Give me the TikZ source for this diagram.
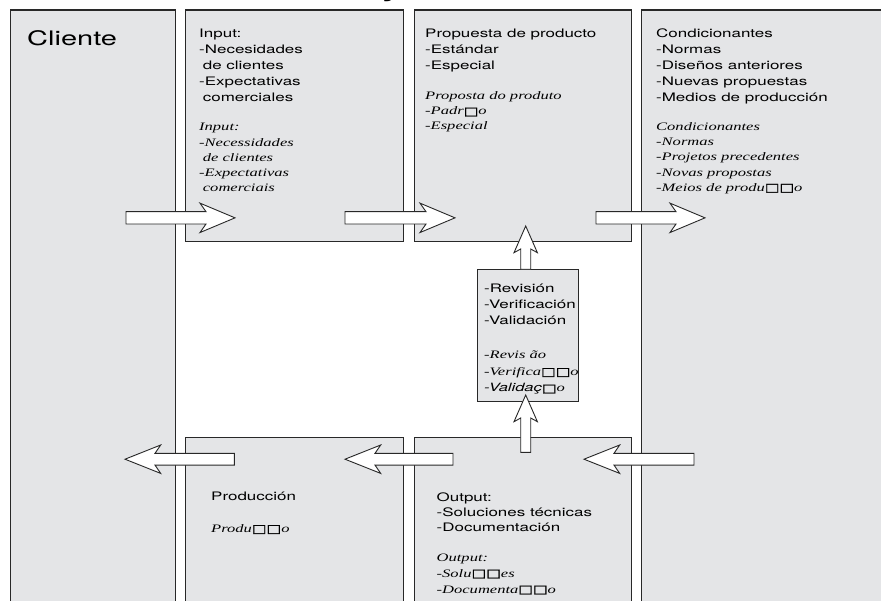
\documentclass[tikz,border=0pt]{standalone}
\usepackage{fontspec}
\usetikzlibrary{calc}
\newfontfamily\hv[FakeStretch=1.45]{TeX Gyre Heros}
\newfontfamily\tm[FakeStretch=1.45]{Liberation Serif}
\newfontfamily\bxf[FakeStretch=1.35,FakeBold=1.5]{DejaVu Sans}
\definecolor{pg}{RGB}{228,229,231}
\definecolor{lc}{RGB}{40,40,40}
\newcommand\bx{{\bxf\fontsize{11.5}{11.5}\selectfont\char"25A1}}
\tikzset{
  panel/.style={draw=lc, line width=1.2pt, fill=pg, inner sep=0pt, anchor=north west},
  sans/.style={font=\hv\fontsize{11.7}{14}\selectfont, inner sep=0pt, anchor=base west},
  ital/.style={font=\tm\itshape\fontsize{11.4}{14}\selectfont, inner sep=0pt, anchor=base west},
  blockarrow/.style={draw=lc, fill=white, line width=0.9pt, line join=miter, miter limit=10},
}
\newcommand\TBlock[6]{%
  \foreach \tl [count=\ti from 0] in {#6} {\node[#2] (#1\ti) at ({#3},{#4+\ti*#5}) {\tl};}}
\newcommand\BArrow[8]{%
  \draw[blockarrow] ($(#1)+({-(#4)*(#5)},{(#3)*(#5)})$)
  -- ($(#2)+({-(#7)*(#3)-(#4)*(#5)},{-(#7)*(#4)+(#3)*(#5)})$)
  -- ($(#2)+({-(#8)*(#3)-(#4)*(#6)},{-(#8)*(#4)+(#3)*(#6)})$)
  -- (#2)
  -- ($(#2)+({-(#8)*(#3)+(#4)*(#6)},{-(#8)*(#4)-(#3)*(#6)})$)
  -- ($(#2)+({-(#7)*(#3)+(#4)*(#5)},{-(#7)*(#4)-(#3)*(#5)})$)
  -- ($(#1)+({(#4)*(#5)},{-(#3)*(#5)})$) -- cycle;}
\begin{document}
\begin{tikzpicture}[x=1pt,y=-1pt]
\useasboundingbox (0,0) rectangle (881,601);
\clip (0,0) rectangle (881,601);
% panels
\node[panel, minimum width=165.5pt, minimum height=620pt] (cli) at (9.5,9.5) {};
\node[panel, minimum width=217.5pt, minimum height=231.5pt] (inp) at (185,9.5) {};
\node[panel, minimum width=217pt, minimum height=231.5pt] (prop) at (413.5,9.5) {};
\node[panel, minimum width=260pt, minimum height=620pt] (cond) at (641,9.5) {};
\node[panel, minimum width=217.5pt, minimum height=200pt] (prod) at (185,437) {};
\node[panel, minimum width=217pt, minimum height=200pt] (outp) at (413.5,437) {};
\node[panel, minimum width=101pt, minimum height=131.4pt] (rev) at (476.7,269.3) {};
% title fragment (only its descender is inside the picture)
\node[font=\hv\bfseries\fontsize{24}{24}\selectfont, inner sep=0pt, anchor=base] (ttl) at (391,-3.5) {y};
% texts
\node[font=\hv\fontsize{20}{20}\selectfont, inner sep=0pt, anchor=base west] (clit) at (27,45.5) {Cliente};
\TBlock{inS}{sans}{199}{37.5}{15.9}{Input:,-Necesidades,{\hspace{3.7pt}de clientes},-Expectativas,{\hspace{3.7pt}comerciales}}
\TBlock{inI}{ital}{199}{131}{15.2}{Input:,-Necessidades,{\hspace{3.7pt}de clientes},-Expectativas,{\hspace{3.7pt}comerciais}}
\TBlock{prS}{sans}{425}{37.5}{16}{Propuesta de producto,-Estándar,-Especial}
\TBlock{prI}{ital}{425}{100}{15}{Proposta do produto,{-Padr\bx o},-Especial}
\TBlock{coS}{sans}{656}{37.5}{16}{Condicionantes,-Normas,-Diseños anteriores,-Nuevas propuestas,-Medios de producción}
\TBlock{coI}{ital}{656}{130.5}{15.2}{Condicionantes,-Normas,-Projetos precedentes,-Novas propostas,{-Meios de produ\bx\bx o}}
\TBlock{rvS}{sans}{484}{293}{16}{-Revisión,-Verificación,-Validación}
\TBlock{rvI}{ital}{484}{359}{16.5}{-Revis ão,{-Verifica\bx\bx o},{{\hv\itshape -Validaç}\bx o}}
\TBlock{pdS}{sans}{211}{500.5}{16}{Producción}
\TBlock{pdI}{ital}{211}{532.5}{16}{{Produ\bx\bx o}}
\TBlock{ouS}{sans}{436.5}{501}{15.2}{Output:,-Soluciones técnicas,-Documentación}
\TBlock{ouI}{ital}{436.5}{561}{16}{Output:,{-Solu\bx\bx es},{-Documenta\bx\bx o}}
% arrows
\coordinate (a1t) at (126,217.85); \coordinate (a1h) at (235,217.85);
\coordinate (a2t) at (345,217.85); \coordinate (a2h) at (455,217.85);
\coordinate (a3t) at (596,217.85); \coordinate (a3h) at (705,217.85);
\coordinate (a4t) at (234.3,459.2); \coordinate (a4h) at (125,459.2);
\coordinate (a5t) at (453,459.2); \coordinate (a5h) at (345,459.2);
\coordinate (a6t) at (694,459.2); \coordinate (a6h) at (584,459.2);
\coordinate (a7t) at (525.7,269.3); \coordinate (a7h) at (525.7,226);
\coordinate (a8t) at (525.7,452.3); \coordinate (a8h) at (525.7,395);
\BArrow{a1t}{a1h}{1}{0}{6.15}{14.7}{29}{35}
\BArrow{a2t}{a2h}{1}{0}{6.15}{14.7}{29}{35}
\BArrow{a3t}{a3h}{1}{0}{6.15}{14.7}{29}{35}
\BArrow{a4t}{a4h}{-1}{0}{5.9}{14.2}{30}{35.7}
\BArrow{a5t}{a5h}{-1}{0}{5.9}{14.2}{30}{35.7}
\BArrow{a6t}{a6h}{-1}{0}{5.9}{14.2}{30}{35.7}
\BArrow{a7t}{a7h}{0}{-1}{5}{11.7}{23}{26.7}
\BArrow{a8t}{a8h}{0}{-1}{5}{11.7}{23}{26.7}
\end{tikzpicture}
\end{document}
